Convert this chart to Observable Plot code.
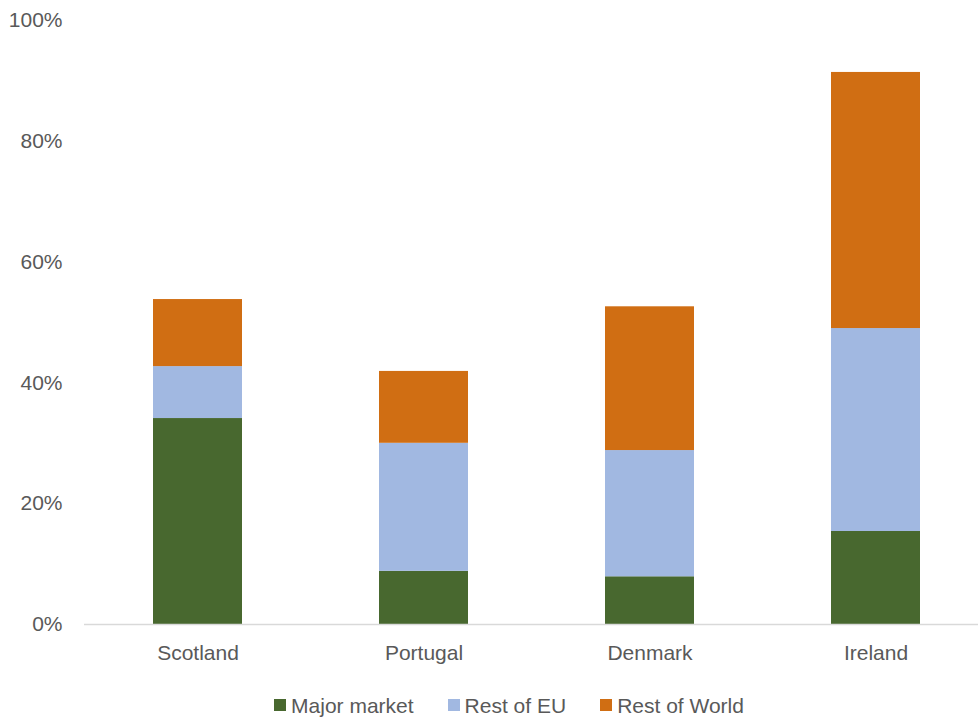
<!DOCTYPE html>
<html>
<head>
<meta charset="utf-8">
<script src="https://cdn.jsdelivr.net/npm/d3@7"></script>
<script src="https://cdn.jsdelivr.net/npm/@observablehq/plot@0.6"></script>
<style>
  body { margin: 0; background: #fff; font-family: "Liberation Sans", Arial, sans-serif; }
  #chart { width: 978px; }
  .legend { display: flex; justify-content: center; gap: 34px; font-size: 21px; color: #595959; margin-top: 14px; margin-left: 40px; }
  .legend span.sw { display: inline-block; width: 12px; height: 12px; margin-right: 5px; vertical-align: 2px; }
</style>
</head>
<body>
<div id="chart"></div>
<script>
const countries = ["Scotland", "Portugal", "Denmark", "Ireland"];
const series = ["Major market", "Rest of EU", "Rest of World"];
const majorMarket = [34.1, 8.8, 7.9, 15.4];
const restOfEU = [8.6, 21.2, 20.9, 33.6];
const restOfWorld = [11.1, 11.9, 23.8, 42.4];
const colors = ["#48682F", "#A1B8E1", "#D06E13"];
const yTicks = [0, 20, 40, 60, 80, 100];

const values = [majorMarket, restOfEU, restOfWorld];
const data = [];
series.forEach((s, si) => countries.forEach((c, ci) => data.push({country: c, series: s, value: values[si][ci]})));

const plot = Plot.plot({
  width: 978,
  height: 680,
  marginTop: 20,
  marginBottom: 56,
  marginLeft: 84,
  marginRight: 0,
  style: {fontFamily: "'Liberation Sans', Arial, sans-serif", fontSize: "21px", color: "#595959", overflow: "hidden"},
  x: {domain: countries, paddingInner: 0.607, paddingOuter: 0.3035, range: [84, 989], label: null},
  y: {domain: [0, 100], label: null},
  color: {domain: series, range: colors},
  marks: [
    Plot.barY(data, {x: "country", y: "value", fill: "series", order: series}),
    Plot.ruleY([0], {stroke: "#d9d9d9", strokeWidth: 1.5}),
    Plot.axisY({ticks: yTicks, tickSize: 0, tickPadding: 22, tickFormat: d => d + "%", fontSize: 21, fill: "#595959"}),
    Plot.axisX({tickSize: 0, tickPadding: 21, fontSize: 21, fill: "#595959"})
  ]
});
document.getElementById("chart").appendChild(plot);

const legend = document.createElement("div");
legend.className = "legend";
series.forEach((s, i) => {
  const item = document.createElement("div");
  item.innerHTML = `<span class="sw" style="background:${colors[i]}"></span>${s}`;
  legend.appendChild(item);
});
document.getElementById("chart").appendChild(legend);
</script>
</body>
</html>
